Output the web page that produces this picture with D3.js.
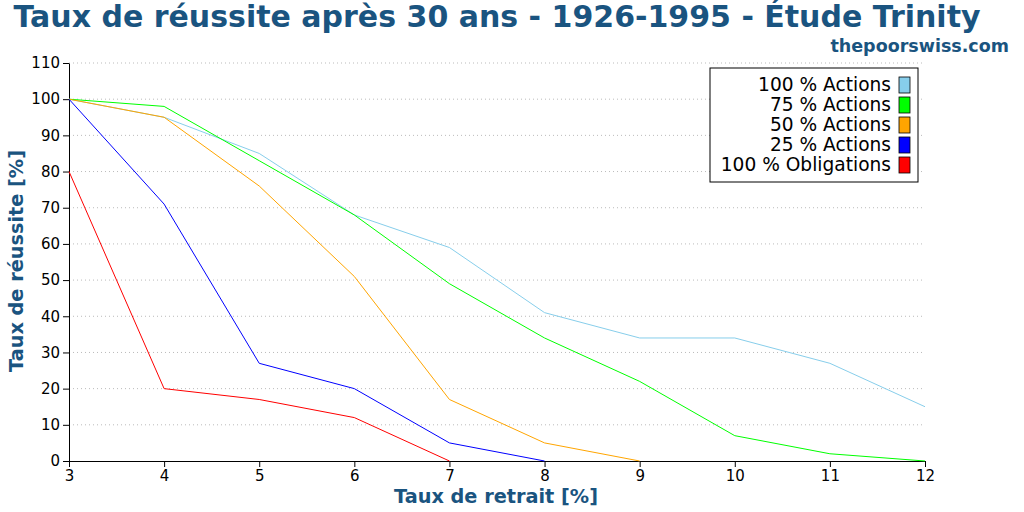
<!DOCTYPE html>
<html><head><meta charset="utf-8">
<script src="https://d3js.org/d3.v7.min.js"></script>
<style>body{margin:0;background:#fff}</style></head>
<body><svg id="c" width="1024" height="512"></svg>
<script>
const xValues=[3,4,5,6,7,8,9,10,11,12];
const seriesNames=["100 % Actions","75 % Actions","50 % Actions","25 % Actions","100 % Obligations"];
const seriesColors=["#87ceeb","#00ff00","#ffa500","#0000ff","#ff0000"];
const stocks100=[100,95,85,68,59,41,34,34,27,15];
const stocks75=[100,98,83,68,49,34,22,7,2,0];
const stocks50=[100,95,76,51,17,5,0];
const stocks25=[100,71,27,20,5,0];
const bonds100=[80,20,17,12,0];
const yTicks=[0,10,20,30,40,50,60,70,80,90,100,110];
const allSeries=[stocks100,stocks75,stocks50,stocks25,bonds100];
const titleColor="#1a5480";
const svg=d3.select("#c");
const m={l:69,r:925,t:63,b:461};
const x=d3.scaleLinear().domain([3,12]).range([m.l,m.r]);
const y=d3.scaleLinear().domain([0,110]).range([m.b,m.t]);
const font="DejaVu Sans";
svg.append("g").selectAll("line").data(yTicks.slice(1)).join("line")
 .attr("x1",m.l).attr("x2",m.r).attr("y1",d=>y(d)).attr("y2",d=>y(d))
 .attr("stroke","#bbb").attr("stroke-dasharray","1,3");
const xa=svg.append("g").attr("transform",`translate(0,${m.b})`).call(d3.axisBottom(x).tickValues(xValues).tickFormat(d3.format("d")).tickSizeOuter(0));
const ya=svg.append("g").attr("transform",`translate(${m.l},0)`).call(d3.axisLeft(y).tickValues(yTicks).tickSizeOuter(0));
[xa,ya].forEach(a=>a.selectAll("text").attr("font-family",font).attr("font-size",15).attr("fill","#000"));
const line=d3.line().x((d,i)=>x(xValues[i])).y(d=>y(d));
allSeries.forEach((s,k)=>svg.append("path").datum(s).attr("d",line).attr("fill","none").attr("stroke",seriesColors[k]).attr("stroke-width",1));
svg.append("text").attr("x",497).attr("y",27).attr("text-anchor","middle").attr("font-family",font).attr("font-weight","bold").attr("font-size",30).attr("fill",titleColor).text("Taux de réussite après 30 ans - 1926-1995 - Étude Trinity");
svg.append("text").attr("x",1009).attr("y",52).attr("text-anchor","end").attr("font-family",font).attr("font-weight","bold").attr("font-size",17.5).attr("fill",titleColor).text("thepoorswiss.com");
svg.append("text").attr("x",496).attr("y",503).attr("text-anchor","middle").attr("font-family",font).attr("font-weight","bold").attr("font-size",19.3).attr("fill",titleColor).text("Taux de retrait [%]");
svg.append("text").attr("transform","translate(23,261) rotate(-90)").attr("text-anchor","middle").attr("font-family",font).attr("font-weight","bold").attr("font-size",19.3).attr("fill",titleColor).text("Taux de réussite [%]");
const lg=svg.append("g");
lg.append("rect").attr("x",710).attr("y",68).attr("width",208).attr("height",114).attr("fill","#fff").attr("stroke","#000");
seriesNames.forEach((n,i)=>{
 const yy=85+i*20;
 lg.append("text").attr("x",891).attr("y",yy+6).attr("text-anchor","end").attr("font-family",font).attr("font-size",18.6).text(n);
 lg.append("rect").attr("x",899).attr("y",yy-8).attr("width",11).attr("height",16).attr("fill",seriesColors[i]).attr("stroke","#000").attr("stroke-width",0.8);
});
</script></body></html>
